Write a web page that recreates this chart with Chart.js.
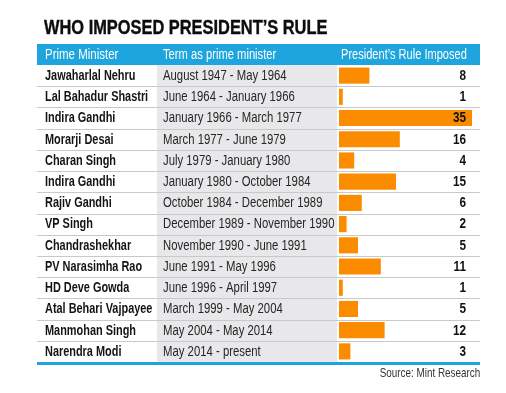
<!DOCTYPE html>
<html lang="en">
<head>
    <meta charset="UTF-8">
    <title>Who imposed President's Rule</title>
    <script src="https://cdn.jsdelivr.net/npm/chart.js@4.4.1/dist/chart.umd.min.js"></script>
    <style>
        body {
            margin: 0;
            background-color: white;
            font-family: "Liberation Sans", Arial, sans-serif;
        }
        .wrap {
            position: relative;
            width: 506px;
            height: 393px;
        }
        canvas {
            position: absolute;
            left: 0;
            top: 0;
        }
        /* the original uses a condensed face, squeeze a regular one */
        h1 {
            position: absolute;
            left: 44px;
            top: 17px;
            margin: 0;
            font-size: 20px;
            line-height: 20px;
            font-weight: bold;
            color: #0d0d0d;
            -webkit-text-stroke: 0.4px #0d0d0d;
            white-space: nowrap;
            transform: scaleX(0.82);
            transform-origin: left top;
        }
        .source {
            position: absolute;
            right: 26px;
            top: 366px;
            font-size: 13px;
            line-height: 14px;
            color: #333;
            white-space: nowrap;
            transform: scaleX(0.76);
            transform-origin: right top;
        }
    </style>
</head>
<body>
    <div class="wrap">
        <canvas id="prChart" width="506" height="393"></canvas>
        <h1>WHO IMPOSED PRESIDENT’S RULE</h1>
        <div class="source">Source: Mint Research</div>
    </div>

    <script>
        const ministers = ["Jawaharlal Nehru", "Lal Bahadur Shastri", "Indira Gandhi", "Morarji Desai",
            "Charan Singh", "Indira Gandhi", "Rajiv Gandhi", "VP Singh", "Chandrashekhar",
            "PV Narasimha Rao", "HD Deve Gowda", "Atal Behari Vajpayee", "Manmohan Singh", "Narendra Modi"];
        const terms = ["August 1947 - May 1964", "June 1964 - January 1966", "January 1966 - March 1977",
            "March 1977 - June 1979", "July 1979 - January 1980", "January 1980 - October 1984",
            "October 1984 - December 1989", "December 1989 - November 1990", "November 1990 - June 1991",
            "June 1991 - May 1996", "June 1996 - April 1997", "March 1999 - May 2004",
            "May 2004 - May 2014", "May 2014 - present"];
        const imposed = [8, 1, 35, 16, 4, 15, 6, 2, 5, 11, 1, 5, 12, 3];
        const headers = ["Prime Minister", "Term as prime minister", "President’s Rule Imposed"];

        const FONT = '"Liberation Sans", Arial, sans-serif';
        const BLUE = "#1ea5de";

        // condensed text: draw a regular face squeezed horizontally
        function squeeze(ctx, text, x, y, k, align) {
            ctx.save();
            ctx.translate(x, y);
            ctx.scale(k, 1);
            ctx.textAlign = align || "left";
            ctx.fillText(text, 0, 0);
            ctx.restore();
        }

        // table drawn around the bar area, rows follow the y scale
        const tablePlugin = {
            id: 'table',
            beforeDatasetsDraw(chart) {
                const ctx = chart.ctx;
                const area = chart.chartArea;
                const y = chart.scales.y;
                const rowH = (area.bottom - area.top) / ministers.length;
                const left = 37;
                ctx.save();
                // header band
                ctx.fillStyle = BLUE;
                ctx.fillRect(left, area.top - 21, area.right - left, 21);
                // grey term column
                ctx.fillStyle = "#e8e8ea";
                ctx.fillRect(157, area.top, 180, area.bottom - area.top);
                // row lines
                ctx.strokeStyle = "#c9c9c9";
                ctx.lineWidth = 1;
                for (let i = 1; i < ministers.length; i++) {
                    const ly = Math.round(area.top + i * rowH) + 0.5;
                    ctx.beginPath();
                    ctx.moveTo(left, ly);
                    ctx.lineTo(area.right, ly);
                    ctx.stroke();
                }
                // bottom rule
                ctx.fillStyle = BLUE;
                ctx.fillRect(left, area.bottom, area.right - left, 3);

                // header text
                ctx.fillStyle = "white";
                ctx.textBaseline = "middle";
                ctx.font = "14px " + FONT;
                const hy = area.top - 10;
                squeeze(ctx, headers[0], 45, hy, 0.82);
                squeeze(ctx, headers[1], 163, hy, 0.80);
                squeeze(ctx, headers[2], 341, hy, 0.79);

                // row text
                ministers.forEach((name, i) => {
                    const cy = y.getPixelForValue(i) + 0.5;
                    ctx.fillStyle = "#141414";
                    ctx.font = "bold 14px " + FONT;
                    squeeze(ctx, name, 45, cy, 0.78);
                    ctx.fillStyle = "#262626";
                    ctx.font = "14px " + FONT;
                    squeeze(ctx, terms[i], 163, cy, 0.81);
                });
                ctx.restore();
            },
            afterDatasetsDraw(chart) {
                const ctx = chart.ctx;
                const y = chart.scales.y;
                ctx.save();
                ctx.fillStyle = "#111";
                ctx.font = "bold 14px " + FONT;
                ctx.textBaseline = "middle";
                imposed.forEach((v, i) => {
                    squeeze(ctx, String(v), 466, y.getPixelForValue(i) + 0.5, 0.84, "right");
                });
                ctx.restore();
            }
        };

        new Chart(document.getElementById("prChart"), {
            type: "bar",
            data: {
                labels: ministers,
                datasets: [{
                    label: "President's Rule Imposed",
                    data: imposed,
                    backgroundColor: "#fb8c00",
                    borderWidth: 0,
                    barPercentage: 0.76,
                    categoryPercentage: 1.0
                }]
            },
            options: {
                indexAxis: 'y',
                responsive: false,
                animation: false,
                layout: {
                    padding: { left: 339, right: 26, top: 65, bottom: 31 }
                },
                plugins: {
                    legend: { display: false },
                    tooltip: { enabled: false }
                },
                scales: {
                    x: { display: false, min: 0, max: 37.1 },
                    y: { display: false }
                }
            },
            plugins: [tablePlugin]
        });
    </script>
</body>
</html>
